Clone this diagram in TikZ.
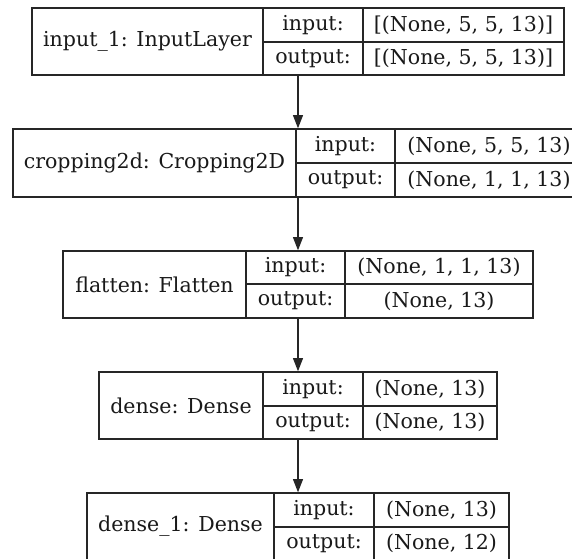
\documentclass[tikz,border=0pt]{standalone}
\usepackage{fontspec}
\setmainfont{DejaVu Serif}
\usetikzlibrary{arrows.meta}
\newcommand\pxu{0.75pt}
\tikzset{
  box/.style={draw=black!85, line width=1pt, inner sep=0pt, anchor=center},
  cell/.style={box, font=\fontsize{15.4}{18}\selectfont, text=black!90},
  arr/.style={draw=black!85, line width=1pt, -{Triangle[length=10pt,width=7.5pt]}}
}
\begin{document}
\begin{tikzpicture}[x=0.75pt,y=-0.75pt]
\useasboundingbox (0,0) rectangle (572,558);
\clip (0,0) rectangle (572,558);
\fill[white] (0,0) rectangle (572,558);
% layer 1
\node[box, minimum width=532*\pxu, minimum height=67*\pxu] (L1) at (298,41.5) {};
\node[cell, minimum width=231*\pxu, minimum height=67*\pxu] (n1) at (147.5,41.5) {input\_1: InputLayer};
\node[cell, minimum width=100*\pxu, minimum height=34*\pxu] (i1l) at (313,25) {input:};
\node[cell, minimum width=100*\pxu, minimum height=33*\pxu] (o1l) at (313,58.5) {output:};
\node[cell, minimum width=201*\pxu, minimum height=34*\pxu] (i1v) at (463.5,25) {[(None, 5, 5, 13)]};
\node[cell, minimum width=201*\pxu, minimum height=33*\pxu] (o1v) at (463.5,58.5) {[(None, 5, 5, 13)]};
% layer 2
\node[box, minimum width=570*\pxu, minimum height=68*\pxu] (L2) at (298,163) {};
\node[cell, minimum width=283*\pxu, minimum height=68*\pxu] (n2) at (154.5,163) {cropping2d: Cropping2D};
\node[cell, minimum width=99*\pxu, minimum height=34*\pxu] (i2l) at (345.5,146) {input:};
\node[cell, minimum width=99*\pxu, minimum height=34*\pxu] (o2l) at (345.5,180) {output:};
\node[cell, minimum width=188*\pxu, minimum height=34*\pxu] (i2v) at (489,146) {(None, 5, 5, 13)};
\node[cell, minimum width=188*\pxu, minimum height=34*\pxu] (o2v) at (489,180) {(None, 1, 1, 13)};
% layer 3
\node[box, minimum width=470*\pxu, minimum height=67*\pxu] (L3) at (298,284.5) {};
\node[cell, minimum width=183*\pxu, minimum height=67*\pxu] (n3) at (154.5,284.5) {flatten: Flatten};
\node[cell, minimum width=99*\pxu, minimum height=33*\pxu] (i3l) at (295.5,267.5) {input:};
\node[cell, minimum width=99*\pxu, minimum height=34*\pxu] (o3l) at (295.5,301) {output:};
\node[cell, minimum width=188*\pxu, minimum height=33*\pxu] (i3v) at (439,267.5) {(None, 1, 1, 13)};
\node[cell, minimum width=188*\pxu, minimum height=34*\pxu] (o3v) at (439,301) {(None, 13)};
% layer 4
\node[box, minimum width=398*\pxu, minimum height=67*\pxu] (L4) at (298,405.5) {};
\node[cell, minimum width=164*\pxu, minimum height=67*\pxu] (n4) at (181,405.5) {dense: Dense};
\node[cell, minimum width=100*\pxu, minimum height=34*\pxu] (i4l) at (313,389) {input:};
\node[cell, minimum width=100*\pxu, minimum height=33*\pxu] (o4l) at (313,422.5) {output:};
\node[cell, minimum width=134*\pxu, minimum height=34*\pxu] (i4v) at (430,389) {(None, 13)};
\node[cell, minimum width=134*\pxu, minimum height=33*\pxu] (o4v) at (430,422.5) {(None, 13)};
% layer 5
\node[box, minimum width=422*\pxu, minimum height=67*\pxu] (L5) at (298,526.5) {};
\node[cell, minimum width=187*\pxu, minimum height=67*\pxu] (n5) at (180.5,526.5) {dense\_1: Dense};
\node[cell, minimum width=100*\pxu, minimum height=34*\pxu] (i5l) at (324,510) {input:};
\node[cell, minimum width=100*\pxu, minimum height=33*\pxu] (o5l) at (324,543.5) {output:};
\node[cell, minimum width=135*\pxu, minimum height=34*\pxu] (i5v) at (441.5,510) {(None, 13)};
\node[cell, minimum width=135*\pxu, minimum height=33*\pxu] (o5v) at (441.5,543.5) {(None, 12)};
% connectors
\draw[arr] (L1.south) -- (L2.north);
\draw[arr] (L2.south) -- (L3.north);
\draw[arr] (L3.south) -- (L4.north);
\draw[arr] (L4.south) -- (L5.north);
\end{tikzpicture}
\end{document}
